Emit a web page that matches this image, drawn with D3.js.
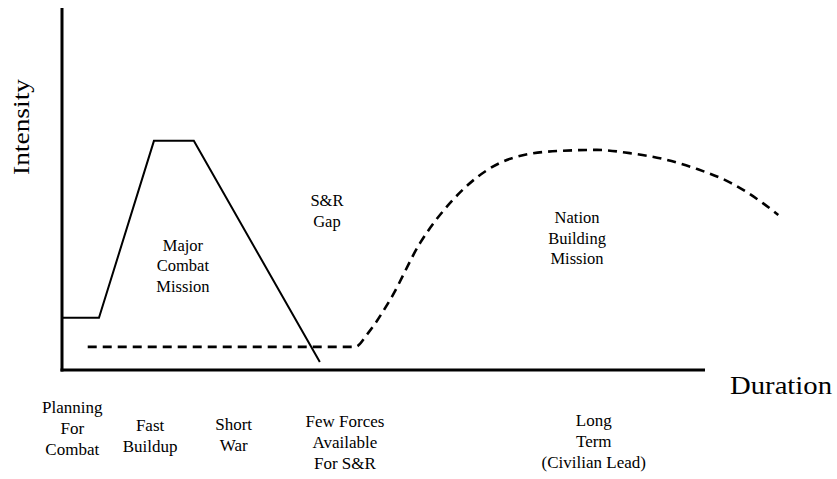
<!DOCTYPE html>
<html>
<head>
<meta charset="utf-8">
<script src="https://cdn.jsdelivr.net/npm/d3@7"></script>
<style>
  html, body { margin: 0; padding: 0; background: #fff; }
  svg { display: block; }
</style>
</head>
<body>
<svg id="chart" width="837" height="479"></svg>
<script>
// ---- data (time units along Duration, intensity units 0..100) ----
const majorCombatT = [0, 5.75, 14.3, 20.5, 40.1];
const majorCombatI = [14.4, 14.4, 63.3, 63.3, 2.2];

const nationBuildT = [4.0, 45.6, 47.6, 51.0, 55.7, 60.8, 66.1, 70.1, 77.0, 83.2, 88.3, 93.5, 98.8, 104.0, 109.0, 111.4];
const nationBuildI = [6.4, 6.4, 10.2, 19.3, 35.1, 47.0, 55.2, 58.6, 60.5, 60.8, 59.9, 58.3, 55.5, 51.7, 46.1, 42.8];

const phaseLabels = [["Planning", "For", "Combat"], ["Fast", "Buildup"], ["Short", "War"], ["Few Forces", "Available", "For S&R"], ["Long", "Term", "(Civilian Lead)"]];
const phaseT = [1.6, 13.7, 26.7, 44.0, 82.7];
const phaseBaselinePx = [413, 431, 430, 427, 426];

const missionLabels = [["Major", "Combat", "Mission"], ["S&R", "Gap"], ["Nation", "Building", "Mission"]];
const missionT = [18.8, 41.2, 80.1];
const missionI = [32.9, 45.3, 40.6];

const axisTitles = { y: "Intensity", x: "Duration" };

const FONT = "Times New Roman, Times, Liberation Serif, serif";

// ---- scales ----
const svg = d3.select("#chart");
const x = d3.scaleLinear().domain([0, 100]).range([62, 705]);
const y = d3.scaleLinear().domain([0, 100]).range([370, 8]);

// axes (plain lines, no ticks)
svg.append("line")
  .attr("x1", x(0)).attr("x2", x(0)).attr("y1", y(100)).attr("y2", y(0) + 1.5)
  .attr("stroke", "#000").attr("stroke-width", 3);
svg.append("line")
  .attr("x1", x(0) - 1.5).attr("x2", x(100)).attr("y1", y(0)).attr("y2", y(0))
  .attr("stroke", "#000").attr("stroke-width", 3);

// solid: major combat
const solid = majorCombatT.map((t, i) => [t, majorCombatI[i]]);
svg.append("path")
  .attr("d", d3.line().x(d => x(d[0])).y(d => y(d[1]))(solid))
  .attr("fill", "none").attr("stroke", "#000").attr("stroke-width", 2)
  .attr("stroke-linejoin", "miter");

// dashed: nation building
const dashed = nationBuildT.map((t, i) => [t, nationBuildI[i]]);
svg.append("path")
  .attr("d", d3.line().x(d => x(d[0])).y(d => y(d[1])).curve(d3.curveMonotoneX)(dashed))
  .attr("fill", "none").attr("stroke", "#000").attr("stroke-width", 2.6)
  .attr("stroke-dasharray", "9,6");

// axis titles
svg.append("text")
  .attr("transform", "translate(29,127) rotate(-90)")
  .attr("text-anchor", "middle")
  .style("font-family", FONT)
  .style("font-size", "24px")
  .attr("textLength", 96).attr("lengthAdjust", "spacingAndGlyphs")
  .text(axisTitles.y);
svg.append("text")
  .attr("x", 730).attr("y", 394)
  .style("font-family", FONT)
  .style("font-size", "26px")
  .attr("textLength", 102).attr("lengthAdjust", "spacingAndGlyphs")
  .text(axisTitles.x);

// mission labels inside the plot
missionLabels.forEach((lines, k) => {
  lines.forEach((s, j) => {
    svg.append("text")
      .attr("text-anchor", "middle")
      .style("font-family", FONT)
      .style("font-size", "16.5px")
      .attr("x", x(missionT[k]))
      .attr("y", y(missionI[k]) + j * 20.5)
      .text(s);
  });
});

// phase labels below axis
phaseLabels.forEach((lines, k) => {
  lines.forEach((s, j) => {
    svg.append("text")
      .attr("text-anchor", "middle")
      .style("font-family", FONT)
      .style("font-size", "17px")
      .attr("x", x(phaseT[k]))
      .attr("y", phaseBaselinePx[k] + j * 20.8)
      .text(s);
  });
});
</script>
</body>
</html>
